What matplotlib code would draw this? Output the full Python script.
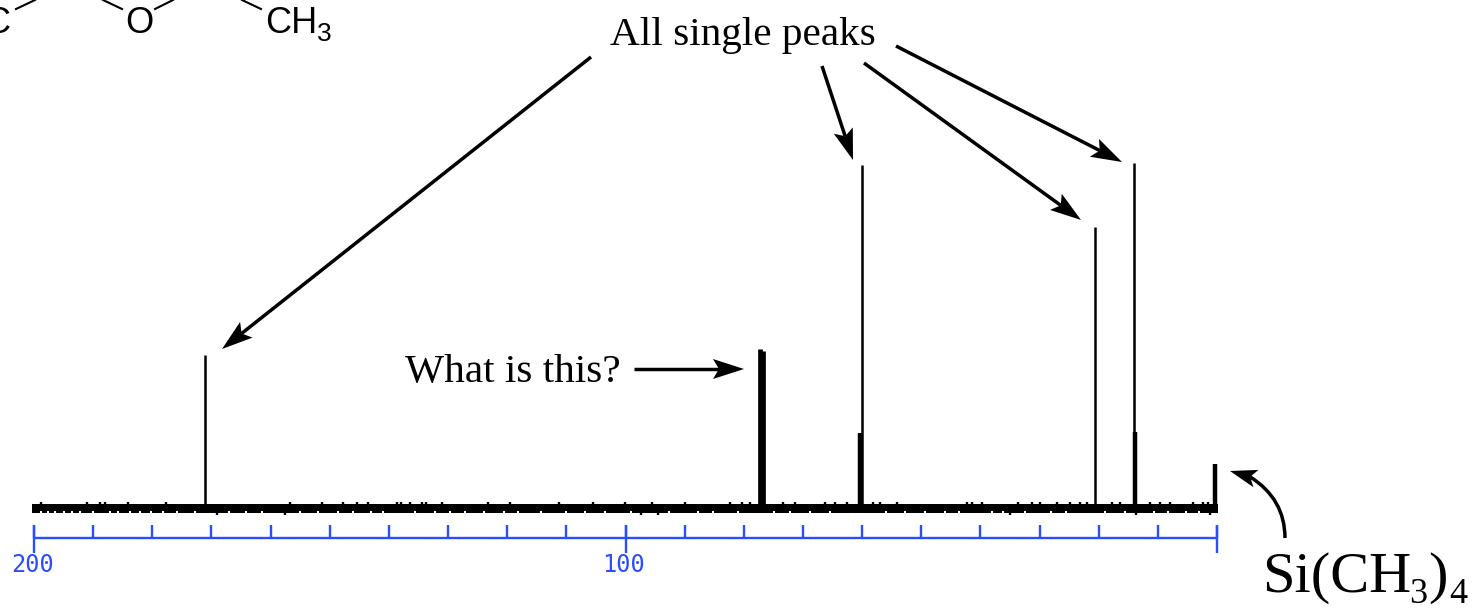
import numpy as np
import matplotlib
matplotlib.use("Agg")
import matplotlib.pyplot as plt
from matplotlib.patches import Polygon, PathPatch
from matplotlib.path import Path

# peak positions (ppm) and heights
peak_ppm = [171.1, 60.0, 20.7, 14.1]
peak_height = [152, 342, 280, 344]
# thicker lower part of two of the peaks
shoulder_ppm = [60.3, 13.9]
shoulder_height = [74, 75]
# solvent signal and reference
solvent_ppm = [77.2, 76.7]
solvent_height = [158, 156]
tms_ppm = [0.35]
tms_height = [43]

# small bumps on top of the baseline band
noise_up = [198.8, 191.0, 188.8, 188.0, 184.1, 177.7, 156.7, 151.3, 147.8, 145.4,
            143.5, 138.6, 138.0, 136.4, 134.4, 133.8, 131.0, 123.2, 119.5, 111.2,
            105.5, 100.1, 95.5, 89.9, 82.3, 80.3, 79.0, 73.4, 71.3, 66.3,
            64.6, 62.6, 58.2, 57.0, 54.1, 42.3, 41.4, 39.7, 33.6, 31.3,
            29.9, 27.0, 24.9, 23.2, 22.0, 17.8, 16.4, 11.3, 9.6, 7.9,
            4.1, 2.4, 1.5]
# dips that stick out below the band
noise_down = [169.0, 157.5, 94.5, 97.3, 35.0, 13.7, 1.2]
# white notches in the lower edge of the band
noise_notch = [198.9, 197.7, 196.4, 195.0, 193.5, 192.2, 190.0, 187.1, 185.8, 183.7,
               182.0, 180.3, 178.2, 175.8, 172.8, 167.0, 164.2, 161.5, 155.0, 152.0,
               148.6, 146.1, 143.0, 141.0, 135.6, 132.2, 129.7, 127.1, 124.0, 120.6,
               118.2, 114.3, 110.0, 106.9, 103.4, 99.1, 92.6, 87.8, 85.2, 81.0,
               74.9, 72.2, 68.8, 65.5, 56.0, 52.7, 49.3, 46.0, 43.6, 38.1,
               36.2, 32.4, 28.1, 25.6, 18.9, 15.5, 10.6, 8.3, 5.2, 3.0]

tick_ppm = np.arange(0, 201, 10)
major_ppm = [200, 100, 0]
major_labels = ["200", "100"]

BLUE = "#2a4dff"
W, H = 1474, 608
PX_PER_PPM = 5.915
X0 = 1217     # pixel of 0 ppm
Y0 = 507      # pixel of zero intensity

fig = plt.figure(figsize=(W / 100, H / 100), dpi=100)

# spectrum axes, in ppm and intensity
ax = fig.add_axes([0, 0, 1, 1])
ax.set_xlim(X0 / PX_PER_PPM, (X0 - W) / PX_PER_PPM)
ax.set_ylim(Y0 - H, Y0)
ax.axis("off")

# baseline band
ax.fill_between([200.3, -0.1], -6, 2.7, color="black", lw=0)
ax.vlines(noise_notch, -6.5, -4, color="white", lw=1.5)
ax.vlines(noise_up, 0, 4.7, color="black", lw=1.7)
ax.vlines(noise_down, -8, 0, color="black", lw=1.7)

# peaks
ax.vlines(peak_ppm, 0, peak_height, color="black", lw=1.8)
ax.vlines(shoulder_ppm, 0, shoulder_height, color="black", lw=3.2)
ax.vlines(solvent_ppm, 0, solvent_height, color="black", lw=3.4)
ax.vlines(tms_ppm, 0, tms_height, color="black", lw=3.2)

# ppm ruler
ax.hlines(-30.5, 200, 0, color=BLUE, lw=1.7)
ax.vlines(tick_ppm, -30.5, -18, color=BLUE, lw=1.7)
ax.vlines(major_ppm, -46, -18, color=BLUE, lw=1.7)
for ppm, label in zip(major_ppm, major_labels):
    ax.text(ppm + 0.3, -58, label, color=BLUE, family="DejaVu Sans Mono", fontsize=17,
            ha="center", va="center")

# overlay in pixels for the labels and arrows
over = fig.add_axes([0, 0, 1, 1])
over.set_xlim(0, W)
over.set_ylim(H, 0)
over.axis("off")
over.patch.set_alpha(0)


def arrow_head(tip, back, length=31, width=20, notch=6):
    '''
    Draws a barbed arrow head at tip, pointing away from back.
    '''
    tip = np.array(tip, dtype=float)
    d = tip - np.array(back, dtype=float)
    d = d / np.hypot(d[0], d[1])
    n = np.array([-d[1], d[0]])
    base = tip - d * length
    pts = [tip, base + n * width / 2, tip - d * (length - notch), base - n * width / 2]
    over.add_patch(Polygon(pts, closed=True, color="black", lw=0))
    return tip - d * (length - notch)


def arrow(start, tip):
    '''
    Straight arrow from start to tip.
    '''
    neck = arrow_head(tip, start)
    over.plot([start[0], neck[0]], [start[1], neck[1]], color="black", lw=2.5,
              solid_capstyle="butt")


arrow((591, 57), (222, 349))
arrow((822, 66), (853, 160))
arrow((864, 63), (1081, 220))
arrow((896, 46), (1122, 162))
arrow((634, 369), (744, 369))

# curved arrow to the reference peak
neck = arrow_head((1230, 471), (1254, 478), length=27, width=18, notch=6)
curve = Path([(1285, 538), (1285, 499), neck], [Path.MOVETO, Path.CURVE3, Path.CURVE3])
over.add_patch(PathPatch(curve, fill=False, lw=2.5, color="black"))

serif = "Liberation Serif"
over.text(610, 45, "All single peaks", family=serif, fontsize=29.7, ha="left", va="baseline")
over.text(405, 382, "What is this?", family=serif, fontsize=29.7, ha="left", va="baseline")
over.text(1262, 592, "Si(CH", family=serif, fontsize=42, ha="left", va="baseline")
over.text(1409, 603, "3", family=serif, fontsize=26, ha="left", va="baseline")
over.text(1428, 592, ")", family=serif, fontsize=42, ha="left", va="baseline")
over.text(1449, 603, "4", family=serif, fontsize=26, ha="left", va="baseline")

# molecule fragment at the top
sans = "Liberation Sans"
over.text(-16, 33, "C", family=sans, fontsize=26, ha="left", va="baseline")
over.text(139, 33, "O", family=sans, fontsize=26, ha="center", va="baseline")
over.text(265, 33, "CH", family=sans, fontsize=26, ha="left", va="baseline")
over.text(317, 41, "3", family=sans, fontsize=19, ha="left", va="baseline")
for x1, y1, x2, y2 in [(16, 9, 35, 0), (103, 0, 122, 9), (155, 9, 173, 0), (242, 0, 261, 9)]:
    over.plot([x1, x2], [y1, y2], color="black", lw=1.5)

fig.savefig("out.png", dpi=100)
